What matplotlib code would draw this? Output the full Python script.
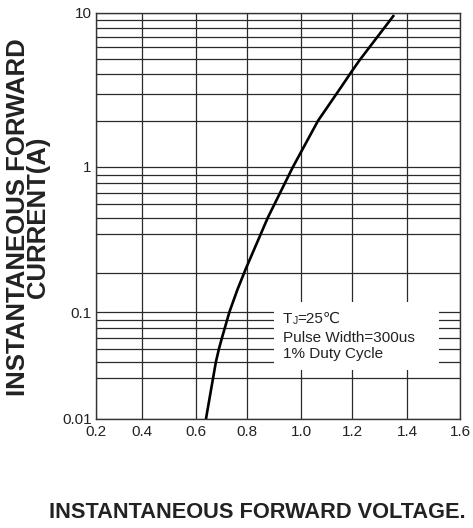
import numpy as np
import matplotlib
matplotlib.use('Agg')
import matplotlib.pyplot as plt
from matplotlib.patches import Rectangle
from matplotlib.ticker import FixedLocator, FixedFormatter, NullFormatter

plt.rcParams['font.family'] = ['Liberation Sans', 'DejaVu Sans']

# forward characteristic
vf = [0.639, 0.667, 0.678, 0.690, 0.702, 0.731, 0.762, 0.795, 0.851,
      0.877, 0.924, 0.970, 1.067, 1.155, 1.200, 1.228, 1.353]
i_fwd = [0.010, 0.040, 0.050, 0.060, 0.070, 0.100, 0.148, 0.215, 0.40,
         0.50, 0.71, 1.0, 2.0, 3.26, 4.2, 4.95, 9.7]

x_ticks = [0.2, 0.4, 0.6, 0.8, 1.0, 1.2, 1.4, 1.6]
y_major = [0.01, 0.1, 1, 10]
y_major_labels = ['0.01', '0.1', '1', '10']
y_minor = [0.04, 0.05, 0.06, 0.07, 0.08, 0.09,
           0.2, 0.4, 0.5, 0.6, 0.7, 0.8, 0.9,
           2, 3, 4, 5, 6, 7, 8, 9]

# the printed chart is hand drawn, its grid is not evenly spaced:
# piecewise scales that follow the printed grid
x_knots = [0.2, 0.4, 0.6, 0.8, 1.0, 1.2, 1.4, 1.6]
x_pos = [96, 142, 196, 247, 301, 352, 407, 460]
y_knots = np.log10([0.01, 0.04, 0.1, 0.4, 1, 10])
y_pos = -np.array([419, 378, 312, 234, 167, 13], dtype=float)


def x_fwd(x):
    return np.interp(x, x_knots, x_pos)


def x_inv(v):
    return np.interp(v, x_pos, x_knots)


def y_fwd(y):
    y = np.maximum(np.asarray(y, dtype=float), 1e-6)
    return np.interp(np.log10(y), y_knots, y_pos)


def y_inv(v):
    return 10 ** np.interp(v, y_pos, y_knots)


W, H = 473, 528
fig = plt.figure(figsize=(W / 100, H / 100), dpi=100)
ax = fig.add_axes([96 / W, 1 - 419 / H, (460 - 96) / W, (419 - 13) / H])

ax.set_xscale('function', functions=(x_fwd, x_inv))
ax.set_yscale('function', functions=(y_fwd, y_inv))
ax.set_xlim(0.2, 1.6)
ax.set_ylim(0.01, 10)

ax.plot(vf, i_fwd, color='black', lw=1.9, zorder=4, solid_capstyle='butt',
        solid_joinstyle='round')

ax.xaxis.set_major_locator(FixedLocator(x_ticks))
ax.xaxis.set_major_formatter(FixedFormatter(['%.1f' % v for v in x_ticks]))
ax.yaxis.set_major_locator(FixedLocator(y_major))
ax.yaxis.set_major_formatter(FixedFormatter(y_major_labels))
ax.yaxis.set_minor_locator(FixedLocator(y_minor))
ax.yaxis.set_minor_formatter(NullFormatter())
ax.xaxis.set_minor_locator(FixedLocator([]))

ax.tick_params(which='both', length=0, labelsize=11, labelcolor='#222')
ax.tick_params(axis='x', pad=4)
ax.tick_params(axis='y', pad=3)
ax.grid(True, which='both', color='#2a2a2a', lw=0.9)
for s in ax.spines.values():
    s.set_color('#333')
    s.set_linewidth(1.0)

# white panel for the test conditions
ax.add_patch(Rectangle((0.489, 0.121), 0.453, 0.167, transform=ax.transAxes,
                       fc='white', ec='none', zorder=2.5))
tx = 0.514
t1 = ax.text(tx, 0.2365, 'T', transform=ax.transAxes, fontsize=11,
             va='baseline', ha='left', color='#222', zorder=3)
t2 = ax.annotate('J', xy=(1, 0), xycoords=t1, fontsize=7.5, va='bottom',
                 ha='left', color='#222', zorder=3)
ax.annotate('=25\u2103', xy=(1, 0), xycoords=t2, fontsize=11, va='bottom',
            ha='left', color='#222', zorder=3)
ax.text(tx, 0.1897, 'Pulse Width=300us', transform=ax.transAxes, fontsize=11,
        va='baseline', ha='left', color='#222', zorder=3)
ax.text(tx, 0.1502, '1% Duty Cycle', transform=ax.transAxes, fontsize=11,
        va='baseline', ha='left', color='#222', zorder=3)

fig.text(28 / W, 1 - 217 / H, 'INSTANTANEOUS FORWARD\nCURRENT(A)', rotation=90,
         ha='center', va='center', fontsize=18.5, fontweight='bold',
         color='#222', linespacing=0.76)
fig.text(49 / W, 1 - 512 / H, 'INSTANTANEOUS FORWARD VOLTAGE.', ha='left',
         va='center', fontsize=15.7, fontweight='bold', color='#222')

fig.savefig('out.png', dpi=100)
